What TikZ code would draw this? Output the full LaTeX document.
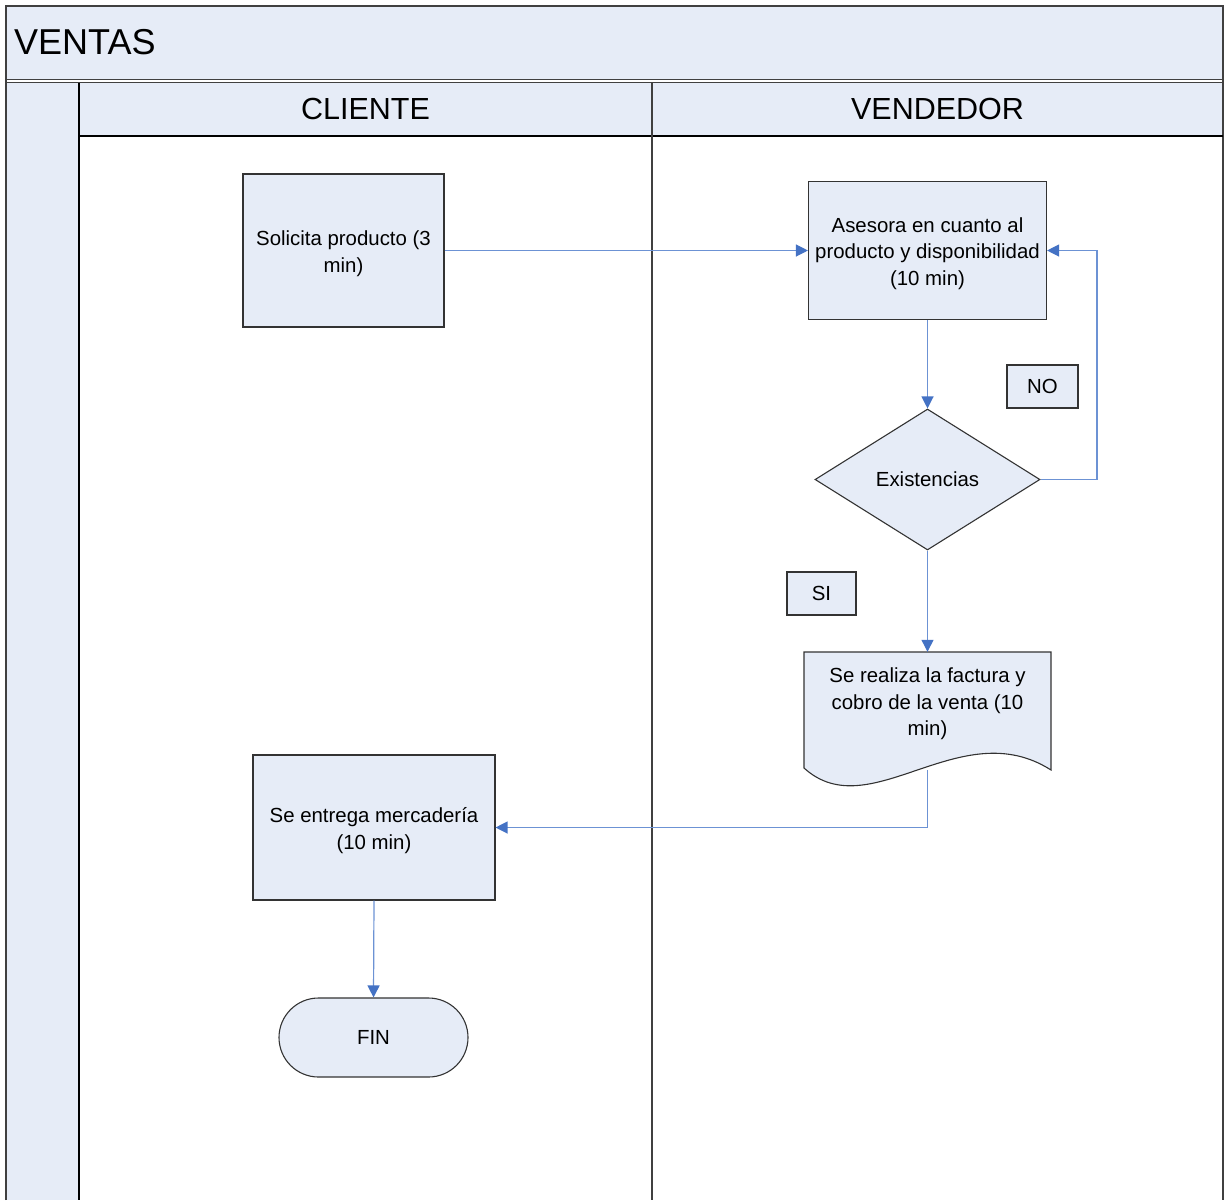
\documentclass[tikz,border=0pt]{standalone}
\usepackage{fontspec}
\setmainfont{Liberation Sans}
\usetikzlibrary{arrows.meta,shapes.geometric}
\definecolor{lanefill}{RGB}{230,236,247}
\definecolor{framegray}{RGB}{64,64,64}
\definecolor{flowline}{RGB}{108,146,212}
\definecolor{flowhead}{RGB}{68,114,196}
% tall strut on a first line sets multi-line text slightly low in its box
\newcommand{\lowstrut}{\rule{0pt}{21pt}}

\begin{document}
\begin{tikzpicture}[x=1pt,y=-1pt,
  every node/.style={font=\fontsize{20.4}{26.5}\selectfont, text=black},
  stepbox/.style={draw=black!80, fill=lanefill, line width=1.1pt, align=center, inner sep=0pt},
  tagbox/.style={draw=black!80, fill=lanefill, line width=1.1pt, inner sep=0pt},
  flow/.style={draw=flowline, line width=1.2pt, -{Triangle[length=12pt,width=12pt,color=flowhead]}},
  lanetitle/.style={font=\fontsize{30.5}{34}\selectfont, anchor=base, inner sep=0pt},
]
\useasboundingbox (0,0) rectangle (1224,1200);

% pool and lane backgrounds
\fill[lanefill] (6,6) rectangle (1223,80);
\fill[lanefill] (6,82) rectangle (79,1200);
\fill[lanefill] (79,82) rectangle (1223,136);

% pool and lane borders
\draw[framegray, line width=2pt] (6,1200) -- (6,6) -- (1223,6) -- (1223,1200);
\draw[framegray, line width=1.4pt] (6,79.5) -- (1223,79.5);
\draw[framegray, line width=1.4pt] (6,82.5) -- (1223,82.5);
\draw[black, line width=1.4pt] (79,82.5) -- (79,1200);
\draw[black, line width=1.4pt] (79,136) -- (1223,136);
\draw[framegray, line width=2pt] (652,82.5) -- (652,1200);

% titles
\node[font=\fontsize{36}{40}\selectfont, anchor=base west, inner sep=0pt] (pool) at (14,54) {VENTAS};
\node[lanetitle] (cliente) at (365.5,119) {CLIENTE};
\node[lanetitle] (vendedor) at (937.5,119) {VENDEDOR};

% document shape for the invoice step
\draw[draw=black!80, fill=lanefill, line width=1.1pt]
  (804,652) -- (1051,652) -- (1051,770)
  .. controls (960,712) and (870,828) .. (804,768) -- cycle;

% process steps
\node[stepbox, minimum width=201pt, minimum height=153pt] (solicita) at (343.5,250.5)
  {\lowstrut Solicita producto (3\\min)};
\node[stepbox, minimum width=238pt, minimum height=138pt] (asesora) at (927.5,250.5)
  {\lowstrut Asesora en cuanto al\\producto y disponibilidad\\(10 min)};
\node[stepbox, shape=diamond, minimum width=225pt, minimum height=141pt] (exist) at (927.5,479.5)
  {Existencias};
\node[align=center, inner sep=0pt, minimum width=247pt, minimum height=98pt] (doc) at (927.5,701)
  {\lowstrut Se realiza la factura y\\cobro de la venta (10\\min)};
\coordinate (docfoot) at (927.5,770);
\node[stepbox, minimum width=242pt, minimum height=145pt] (entrega) at (374,827.5)
  {\lowstrut Se entrega mercadería\\(10 min)};
\node[stepbox, rounded corners=39.5pt, minimum width=189pt, minimum height=79pt] (fin) at (373.5,1037.5)
  {FIN};

% decision labels
\node[tagbox, minimum width=71pt, minimum height=43pt] (no) at (1042.5,386.5) {NO};
\node[tagbox, minimum width=69pt, minimum height=43pt] (si) at (821.5,593.5) {SI};

% connectors
\coordinate (loop) at (1097,479.5);
\draw[flow] (solicita.east) -- (asesora.west);
\draw[flow] (asesora.south) -- (exist.north);
\draw[flow] (exist.east) -- (loop) |- (asesora.east);
\draw[flow] (exist.south) -- (doc.north);
\draw[flow] (docfoot) |- (entrega.east);
\draw[flow] (entrega.south) -- (fin.north);
\end{tikzpicture}
\end{document}
